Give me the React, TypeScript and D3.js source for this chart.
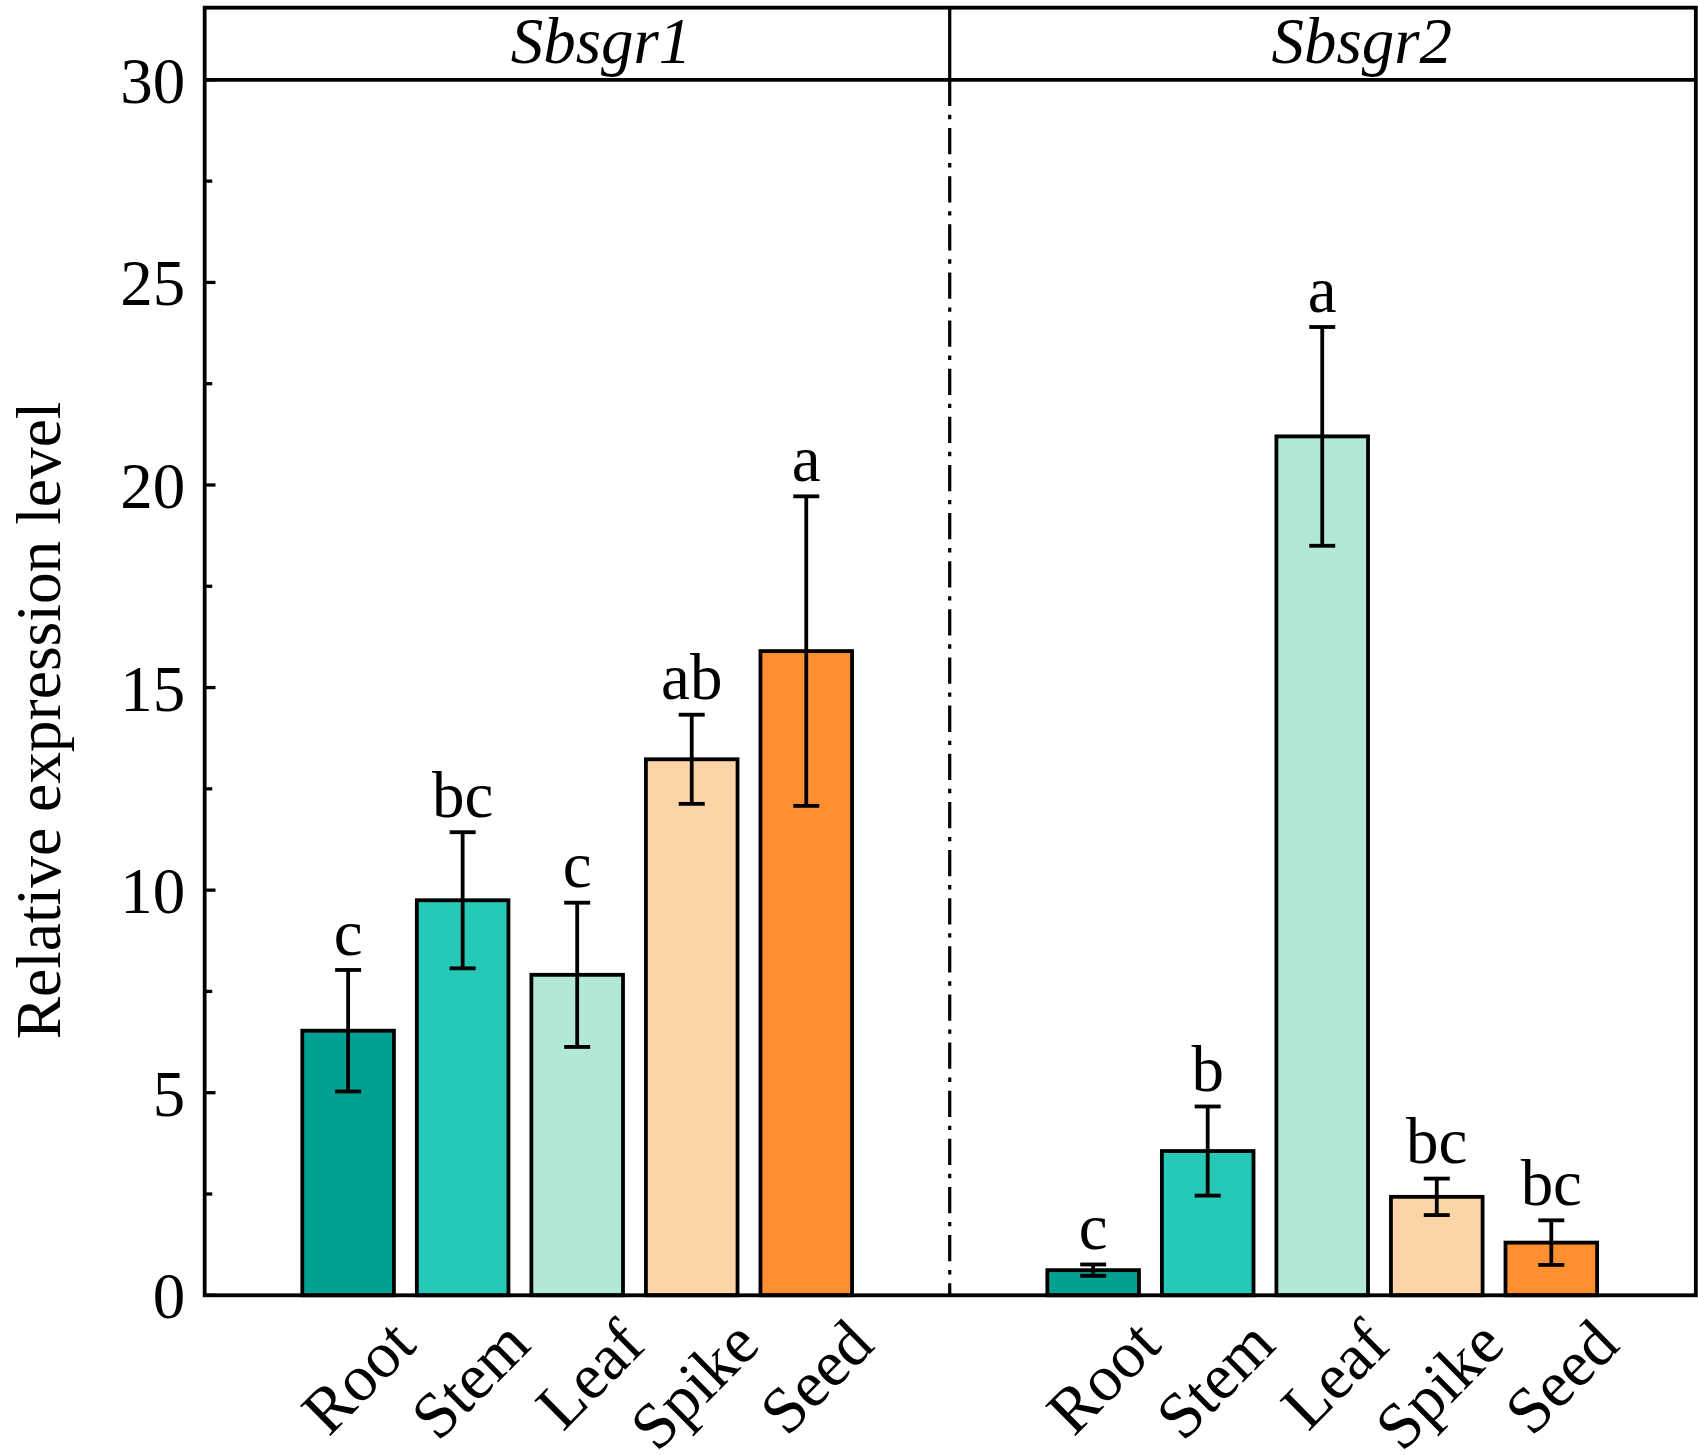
import React from "react";
import * as d3 from "d3";

const genes = ["Sbsgr1", "Sbsgr2"];
const tissues = ["Root", "Stem", "Leaf", "Spike", "Seed"];
const colors = ["#02a092", "#26c8b8", "#b3e8d8", "#fdd4a8", "#fd8f30"];
const means = [
  [6.53, 9.75, 7.91, 13.23, 15.9],
  [0.62, 3.56, 21.2, 2.43, 1.3],
];
const errs = [
  [1.5, 1.68, 1.78, 1.1, 3.82],
  [0.14, 1.1, 2.7, 0.45, 0.55],
];
const letters = [
  ["c", "bc", "c", "ab", "a"],
  ["c", "b", "a", "bc", "bc"],
];
const yTicks = [0, 5, 10, 15, 20, 25, 30];

const W = 1568, H = 1330;
const L = 189, R = 1566, TOP = 7, HEAD = 73, BASE = 1184;
const mid = 877;
const font = "'Liberation Serif', 'Times New Roman', serif";

export default function App() {
  const y = d3.scaleLinear().domain([0, 30]).range([BASE, HEAD]);
  const panels = [d3.scaleBand().domain(tissues).range([258, 808]).padding(0.2), d3.scaleBand().domain(tissues).range([946, 1496]).padding(0.2)];
  const minor = d3.range(0, 30.01, 2.5);
  return (
    <svg width={1698} height={1455} viewBox={`0 0 ${W} ${H}`} preserveAspectRatio="none"
      style={{ position: "absolute", left: 0, top: 0, background: "#fff" }} fontFamily={font}>
      {minor.map((t) => (
        <line key={t} x1={L} x2={L + (t % 5 === 0 ? 10 : 7)} y1={y(t)} y2={y(t)} stroke="#000" strokeWidth={3} />
      ))}
      {yTicks.map((t) => (
        <text key={t} x={L - 18} y={y(t)} dy="0.35em" textAnchor="end" fontSize={60}>{t}</text>
      ))}
      <text transform={`translate(55,${(HEAD + BASE) / 2 + 30}) rotate(-90)`} textAnchor="middle" fontSize={58}>Relative expression level</text>
      <line x1={mid} x2={mid} y1={HEAD} y2={BASE} stroke="#000" strokeWidth={3} strokeDasharray="24 8 4 8" />
      {genes.map((g, gi) => {
        const x = panels[gi];
        return (
          <g key={g}>
            <text x={gi === 0 ? (L + mid) / 2 + 22 : (mid + R) / 2 + 36} y={58} textAnchor="middle" fontSize={60} fontStyle="italic">{g}</text>
            {tissues.map((t, i) => {
              const cx = x(t)! + x.bandwidth() / 2;
              const v = means[gi][i], e = errs[gi][i];
              return (
                <g key={t}>
                  <rect x={x(t)} width={x.bandwidth()} y={y(v)} height={BASE - y(v)} fill={colors[i]} stroke="#000" strokeWidth={3.5} />
                  <line x1={cx} x2={cx} y1={y(v + e)} y2={y(v - e)} stroke="#000" strokeWidth={3.5} />
                  <line x1={cx - 12} x2={cx + 12} y1={y(v + e)} y2={y(v + e)} stroke="#000" strokeWidth={3.5} />
                  <line x1={cx - 12} x2={cx + 12} y1={y(v - e)} y2={y(v - e)} stroke="#000" strokeWidth={3.5} />
                  <text x={cx} y={y(v + e) - 14} textAnchor="middle" fontSize={60}>{letters[gi][i]}</text>
                  <text transform={`translate(${cx + 35},${BASE + 18}) rotate(-45)`} textAnchor="end" dy="0.7em" fontSize={60}>{t}</text>
                </g>
              );
            })}
          </g>
        );
      })}
      <rect x={L} y={TOP} width={R - L} height={BASE - TOP} fill="none" stroke="#000" strokeWidth={3.5} />
      <line x1={L} x2={R} y1={HEAD} y2={HEAD} stroke="#000" strokeWidth={3.5} />
      <line x1={mid} x2={mid} y1={TOP} y2={HEAD} stroke="#000" strokeWidth={3} />
    </svg>
  );
}
